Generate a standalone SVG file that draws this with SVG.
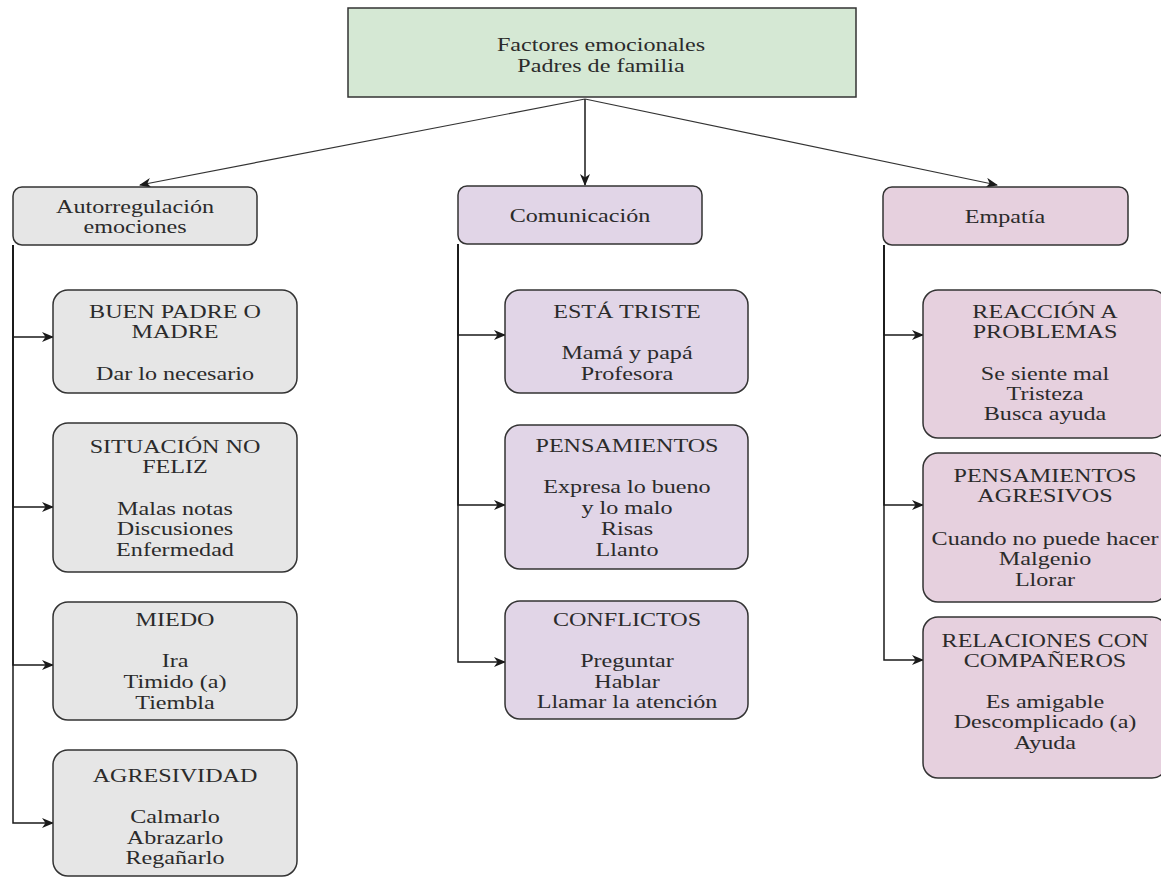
<svg xmlns="http://www.w3.org/2000/svg" width="1161" height="882" viewBox="0 0 1161 882">
<style>
.t{font-family:"Liberation Serif","Times New Roman",serif;font-size:18px;fill:#2b2b2b;text-anchor:middle}
.n{stroke:#333;stroke-width:1.5}
.g{fill:#e6e6e6}.p{fill:#e1d5e7}.r{fill:#e6d0de}.v{fill:#d5e8d4}
.c{fill:none;stroke:#1a1a1a;stroke-width:1.5}
.d{fill:none;stroke:#333;stroke-width:1.2}
</style>
<defs>
<marker id="ah" viewBox="0 0 12 10" refX="11" refY="5" markerWidth="12" markerHeight="10" markerUnits="userSpaceOnUse" orient="auto">
<path d="M0,0 L12,5 L0,10 L3.5,5 z" fill="#1a1a1a"/>
</marker>
</defs>
<rect width="1161" height="882" fill="#fff"/>
<g id="connectors">
<path class="d" d="M585,99 L140,185" marker-end="url(#ah)"/>
<path class="c" d="M585,99 L585,185" marker-end="url(#ah)"/>
<path class="d" d="M585,99 L997,185" marker-end="url(#ah)"/>
<path class="c" d="M13,245 V337 H53" marker-end="url(#ah)"/>
<path class="c" d="M13,245 V507 H53" marker-end="url(#ah)"/>
<path class="c" d="M13,245 V665 H53" marker-end="url(#ah)"/>
<path class="c" d="M13,245 V823 H53" marker-end="url(#ah)"/>
<path class="c" d="M458,244 V335 H505" marker-end="url(#ah)"/>
<path class="c" d="M458,244 V505 H505" marker-end="url(#ah)"/>
<path class="c" d="M458,244 V662 H505" marker-end="url(#ah)"/>
<path class="c" d="M884,245 V335 H923" marker-end="url(#ah)"/>
<path class="c" d="M884,245 V505 H923" marker-end="url(#ah)"/>
<path class="c" d="M884,245 V660 H923" marker-end="url(#ah)"/>
</g>
<g id="root">
<rect class="n v" x="348" y="8" width="508" height="89"/>
<text class="t" transform="translate(601 0) scale(1.34 1)"><tspan x="0" y="51">Factores emocionales</tspan><tspan x="0" y="72">Padres de familia</tspan></text>
</g>
<g id="autorregulacion">
<rect class="n g" x="13" y="187" width="244" height="58" rx="9"/>
<text class="t" transform="translate(135 0) scale(1.34 1)"><tspan x="0" y="213">Autorregulación</tspan><tspan x="0" y="233">emociones</tspan></text>
</g>
<g id="comunicacion">
<rect class="n p" x="458" y="186" width="244" height="58" rx="9"/>
<text class="t" transform="translate(580 0) scale(1.34 1)"><tspan x="0" y="222">Comunicación</tspan></text>
</g>
<g id="empatia">
<rect class="n r" x="883" y="187" width="245" height="58" rx="9"/>
<text class="t" transform="translate(1005 0) scale(1.34 1)"><tspan x="0" y="223">Empatía</tspan></text>
</g>
<g id="buen-padre">
<rect class="n g" x="53" y="290" width="244" height="103" rx="15"/>
<text class="t" transform="translate(175 0) scale(1.34 1)"><tspan x="0" y="318">BUEN PADRE O</tspan><tspan x="0" y="338">MADRE</tspan><tspan x="0" y="380">Dar lo necesario</tspan></text>
</g>
<g id="situacion">
<rect class="n g" x="53" y="423" width="244" height="149" rx="15"/>
<text class="t" transform="translate(175 0) scale(1.34 1)"><tspan x="0" y="453">SITUACIÓN NO</tspan><tspan x="0" y="473">FELIZ</tspan><tspan x="0" y="515">Malas notas</tspan><tspan x="0" y="535">Discusiones</tspan><tspan x="0" y="556">Enfermedad</tspan></text>
</g>
<g id="miedo">
<rect class="n g" x="53" y="602" width="244" height="118" rx="15"/>
<text class="t" transform="translate(175 0) scale(1.34 1)"><tspan x="0" y="626">MIEDO</tspan><tspan x="0" y="667">Ira</tspan><tspan x="0" y="688">Timido (a)</tspan><tspan x="0" y="709">Tiembla</tspan></text>
</g>
<g id="agresividad">
<rect class="n g" x="53" y="750" width="244" height="126" rx="15"/>
<text class="t" transform="translate(175 0) scale(1.34 1)"><tspan x="0" y="782">AGRESIVIDAD</tspan><tspan x="0" y="823">Calmarlo</tspan><tspan x="0" y="844">Abrazarlo</tspan><tspan x="0" y="864">Regañarlo</tspan></text>
</g>
<g id="esta-triste">
<rect class="n p" x="505" y="290" width="243" height="103" rx="15"/>
<text class="t" transform="translate(627 0) scale(1.34 1)"><tspan x="0" y="318">ESTÁ TRISTE</tspan><tspan x="0" y="359">Mamá y papá</tspan><tspan x="0" y="380">Profesora</tspan></text>
</g>
<g id="pensamientos">
<rect class="n p" x="505" y="425" width="243" height="144" rx="15"/>
<text class="t" transform="translate(627 0) scale(1.34 1)"><tspan x="0" y="452">PENSAMIENTOS</tspan><tspan x="0" y="493">Expresa lo bueno</tspan><tspan x="0" y="514">y lo malo</tspan><tspan x="0" y="535">Risas</tspan><tspan x="0" y="556">Llanto</tspan></text>
</g>
<g id="conflictos">
<rect class="n p" x="505" y="601" width="243" height="118" rx="15"/>
<text class="t" transform="translate(627 0) scale(1.34 1)"><tspan x="0" y="626">CONFLICTOS</tspan><tspan x="0" y="667">Preguntar</tspan><tspan x="0" y="688">Hablar</tspan><tspan x="0" y="708">Llamar la atención</tspan></text>
</g>
<g id="reaccion">
<rect class="n r" x="923" y="290" width="244" height="148" rx="15"/>
<text class="t" transform="translate(1045 0) scale(1.34 1)"><tspan x="0" y="318">REACCIÓN A</tspan><tspan x="0" y="338">PROBLEMAS</tspan><tspan x="0" y="380">Se siente mal</tspan><tspan x="0" y="400">Tristeza</tspan><tspan x="0" y="420">Busca ayuda</tspan></text>
</g>
<g id="pensamientos-agresivos">
<rect class="n r" x="923" y="453" width="244" height="149" rx="15"/>
<text class="t" transform="translate(1045 0) scale(1.34 1)"><tspan x="0" y="482">PENSAMIENTOS</tspan><tspan x="0" y="502">AGRESIVOS</tspan><tspan x="0" y="545">Cuando no puede hacer</tspan><tspan x="0" y="565">Malgenio</tspan><tspan x="0" y="586">Llorar</tspan></text>
</g>
<g id="relaciones">
<rect class="n r" x="923" y="617" width="244" height="161" rx="15"/>
<text class="t" transform="translate(1045 0) scale(1.34 1)"><tspan x="0" y="647">RELACIONES CON</tspan><tspan x="0" y="667">COMPAÑEROS</tspan><tspan x="0" y="708">Es amigable</tspan><tspan x="0" y="728">Descomplicado (a)</tspan><tspan x="0" y="749">Ayuda</tspan></text>
</g>
</svg>
